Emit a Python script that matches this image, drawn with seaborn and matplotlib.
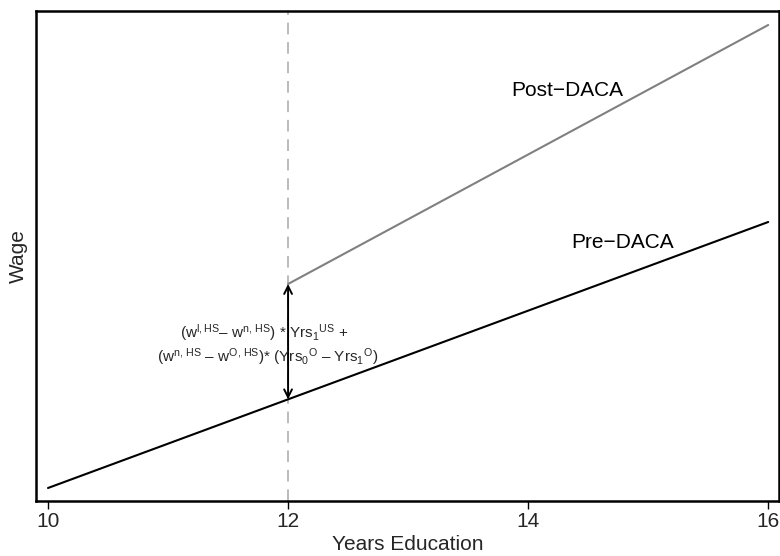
import matplotlib
matplotlib.use("Agg")
import matplotlib.pyplot as plt
import seaborn as sns
import pandas as pd

# data
pre_years = [10, 16]
pre_wage = [1.3, 27.9]
post_years = [12, 16]
post_wage = [21.7, 47.6]
x_ticks = [10, 12, 14, 16]
cutoff_year = 12

sns.set_theme(style="white")
plt.rcParams['font.family'] = ['Liberation Sans', 'DejaVu Sans']
plt.rcParams['mathtext.fontset'] = 'custom'
plt.rcParams['mathtext.rm'] = 'Liberation Sans'
plt.rcParams['mathtext.it'] = 'Liberation Sans'

fig = plt.figure(figsize=(7.8, 5.56), dpi=100)
ax = fig.add_axes([36/780, 1 - 501/556, (779-36)/780, (501-11)/556])

pre = pd.DataFrame({"x": pre_years, "y": pre_wage})
post = pd.DataFrame({"x": post_years, "y": post_wage})

ax.axvline(cutoff_year, color="#bbbbbb", lw=1.4, ls=(0, (6, 4)), zorder=1)
sns.lineplot(data=pre, x="x", y="y", ax=ax, color="black", lw=1.5)
sns.lineplot(data=post, x="x", y="y", ax=ax, color="#808080", lw=1.5)

ax.set_xlim(9.9, 16.09)
ax.set_ylim(0, 49.0)

ax.annotate("", xy=(cutoff_year, post_wage[0]), xytext=(cutoff_year, pre_wage[0] + (pre_wage[1]-pre_wage[0])/3),
            arrowprops=dict(arrowstyle="<->", color="black", lw=1.4, mutation_scale=14,
                            shrinkA=0, shrinkB=0))

ax.text(14.33, 41.1, "Post\u2212DACA", fontsize=15, color="black", ha="center", va="center")
ax.text(14.79, 25.9, "Pre\u2212DACA", fontsize=15, color="black", ha="center", va="center")

line1 = r"(w$^{\rm l,HS}$– w$^{\rm n,\,HS}$) * Yrs$_1$$^{\rm US}$ +"
line2 = r"(w$^{\rm n,\,HS}$ – w$^{\rm O,\,HS}$)* (Yrs$_0$$^{\rm O}$ – Yrs$_1$$^{\rm O}$)"
ax.text(11.8, 16.8, line1, fontsize=11, ha="center", va="center")
ax.text(11.83, 14.4, line2, fontsize=11, ha="center", va="center")

ax.set_xticks(x_ticks)
ax.set_xticklabels([str(t) for t in x_ticks], fontsize=15)
ax.set_yticks([])
ax.set_xlabel("Years Education", fontsize=15, labelpad=3)
ax.set_ylabel("Wage", fontsize=15, labelpad=6)
ax.tick_params(axis="x", bottom=True, length=6, width=1, color="black", pad=2)
for s in ax.spines.values():
    s.set_color("black")
    s.set_linewidth(1.8)

fig.savefig("out.png", dpi=100)
